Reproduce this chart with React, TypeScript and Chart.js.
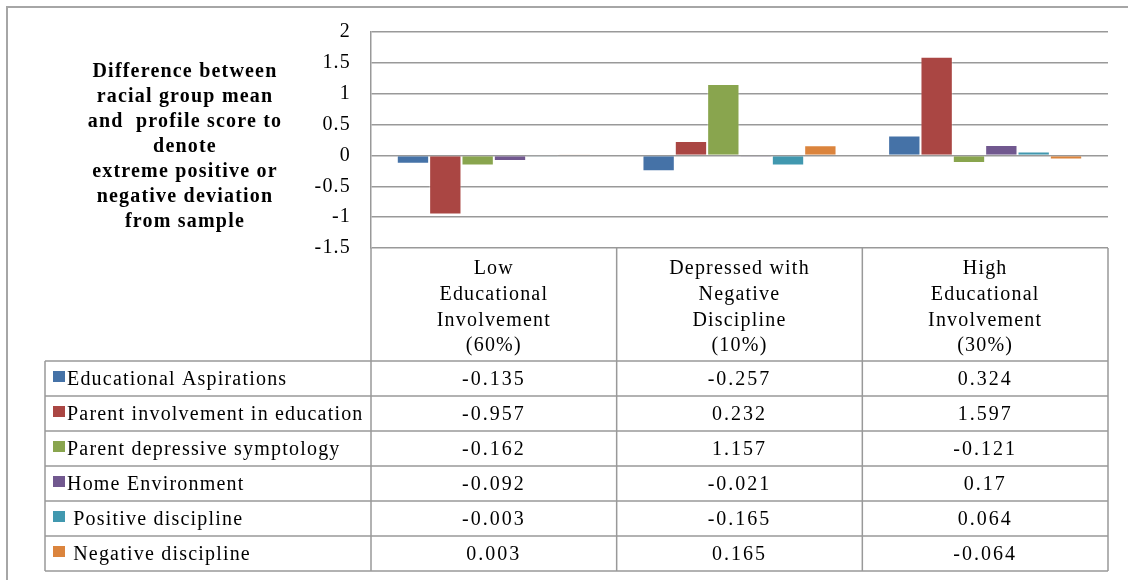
import React, { useEffect, useRef } from "react";
import { Chart, registerables } from "chart.js";

Chart.register(...registerables);

const categories: string[][] = [
  ["Low", "Educational", "Involvement", "(60%)"],
  ["Depressed with", "Negative", "Discipline", "(10%)"],
  ["High", "Educational", "Involvement", "(30%)"],
];

const seriesNames: string[] = [
  "Educational Aspirations",
  "Parent involvement in education",
  "Parent depressive symptology",
  "Home Environment",
  " Positive discipline",
  " Negative discipline",
];

const educationalAspirations = [-0.135, -0.257, 0.324];
const parentInvolvement = [-0.957, 0.232, 1.597];
const parentDepressive = [-0.162, 1.157, -0.121];
const homeEnvironment = [-0.092, -0.021, 0.17];
const positiveDiscipline = [-0.003, -0.165, 0.064];
const negativeDiscipline = [0.003, 0.165, -0.064];

const seriesValues = [
  educationalAspirations,
  parentInvolvement,
  parentDepressive,
  homeEnvironment,
  positiveDiscipline,
  negativeDiscipline,
];

const seriesColors = ["#4572A7", "#AA4643", "#89A54E", "#71588F", "#4198AF", "#DB843D"];

const titleLines = [
  "Difference between",
  "racial group mean",
  "and  profile score to",
  "denote",
  "extreme positive or",
  "negative deviation",
  "from sample",
];

const FONT = "'Liberation Serif', 'Times New Roman', serif";
const GRID = "#999999";

const tablePlugin = {
  id: "tablePlugin",
  beforeDraw(chart: any) {
    const ctx = chart.ctx;
    ctx.letterSpacing = "1.2px";
  },
  afterDraw(chart: any) {
    const ctx = chart.ctx as CanvasRenderingContext2D;
    const area = chart.chartArea;
    const left = area.left;
    const right = area.right;
    const catW = (right - left) / categories.length;
    const headerBottom = 361;
    const rowH = 35;
    const tableLeft = 45;
    const nRows = seriesNames.length;
    const tableBottom = headerBottom + rowH * nRows;

    ctx.save();
    (ctx as any).letterSpacing = "1.2px";
    // outer frame
    ctx.strokeStyle = "#a6a6a6";
    ctx.lineWidth = 2;
    ctx.beginPath();
    ctx.moveTo(7, 580);
    ctx.lineTo(7, 7);
    ctx.lineTo(1128, 7);
    ctx.stroke();

    // table lines
    ctx.strokeStyle = GRID;
    ctx.lineWidth = 1.5;
    ctx.beginPath();
    for (let i = 0; i <= categories.length; i++) {
      const x = left + i * catW;
      ctx.moveTo(x, area.bottom);
      ctx.lineTo(x, tableBottom);
    }
    ctx.moveTo(tableLeft, headerBottom);
    ctx.lineTo(tableLeft, tableBottom);
    for (let r = 0; r <= nRows; r++) {
      const y = headerBottom + r * rowH;
      ctx.moveTo(tableLeft, y);
      ctx.lineTo(right, y);
    }
    ctx.stroke();

    // row labels and values
    ctx.textBaseline = "middle";
    ctx.font = `20px ${FONT}`;
    ctx.fillStyle = "#000";
    for (let r = 0; r < nRows; r++) {
      const top = headerBottom + r * rowH;
      const cy = top + 18.5;
      ctx.fillStyle = seriesColors[r];
      ctx.fillRect(53, top + 10, 12, 11);
      ctx.fillStyle = "#000";
      ctx.textAlign = "left";
      (ctx as any).letterSpacing = "1.2px";
      ctx.fillText(seriesNames[r], 67, cy);
      ctx.textAlign = "center";
      (ctx as any).letterSpacing = "2px";
      for (let c = 0; c < categories.length; c++) {
        const cx = chart.scales.x.getPixelForValue(c);
        ctx.fillText(String(seriesValues[r][c]), cx, cy);
      }
    }

    // title
    (ctx as any).letterSpacing = "1.2px";
    ctx.font = `bold 20px ${FONT}`;
    ctx.textAlign = "center";
    titleLines.forEach((line, i) => {
      ctx.fillText(line, 185, 72 + i * 25);
    });
    ctx.restore();
  },
};

export default function App() {
  const ref = useRef<HTMLCanvasElement | null>(null);
  useEffect(() => {
    if (!ref.current) return;
    const chart = new Chart(ref.current, {
      type: "bar",
      data: {
        labels: categories,
        datasets: seriesNames.map((name, i) => ({
          label: name,
          data: seriesValues[i],
          backgroundColor: seriesColors[i],
          borderColor: "rgba(255,255,255,0.35)",
          borderWidth: 1,
          categoryPercentage: 0.79,
          barPercentage: 1,
        })),
      },
      options: {
        responsive: false,
        animation: false,
        layout: { padding: { top: 30, right: 20, bottom: 0, left: 0 } },
        plugins: { legend: { display: false }, tooltip: { enabled: false } },
        scales: {
          x: {
            grid: { display: false, drawTicks: false },
            border: { display: false },
            ticks: {
              font: { family: FONT, size: 20, lineHeight: 1.285 },
              color: "#000",
              padding: 8,
              maxRotation: 0,
              autoSkip: false,
            },
            afterFit: (s: any) => {
              s.height = 332;
            },
          },
          y: {
            min: -1.5,
            max: 2,
            grid: { color: GRID, lineWidth: 1.5, drawTicks: false },
            border: { display: true, color: GRID, width: 1.5 },
            ticks: {
              stepSize: 0.5,
              font: { family: FONT, size: 20 },
              color: "#000",
              padding: 20,
              callback: (v: any) => String(v),
            },
            afterFit: (s: any) => {
              s.width = 371;
            },
          },
        },
      },
      plugins: [tablePlugin],
    });
    return () => chart.destroy();
  }, []);
  return (
    <div style={{ position: "fixed", left: 0, top: 0, width: 1128, height: 580, background: "#fff" }}>
      <canvas ref={ref} width={1128} height={580} />
    </div>
  );
}
